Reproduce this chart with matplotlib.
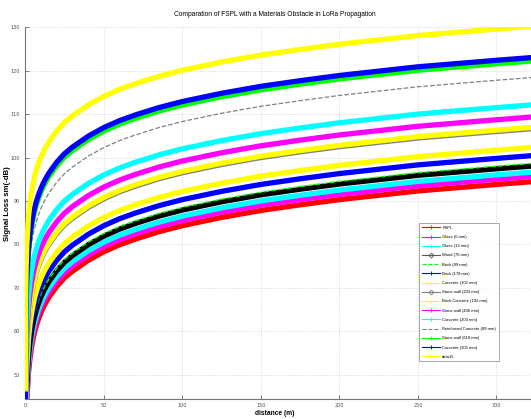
import matplotlib
matplotlib.use("Agg")
import matplotlib.pyplot as plt
from matplotlib.lines import Line2D
from matplotlib import font_manager
import numpy as np

# Distances (m) and free-space path loss (dB)
distance = [0.02, 0.05, 0.1, 0.2, 0.5, 1, 2, 3, 4, 5, 6, 7, 8, 10, 12, 15, 20, 25,
            30, 40, 50, 60, 70, 85, 100, 125, 150, 175, 200, 250, 300, 325]
fspl_db = [10.3, 18.3, 24.3, 30.3, 38.3, 44.3, 50.3, 53.8, 56.3, 58.3, 59.9, 61.2,
           62.4, 64.3, 65.9, 67.8, 70.3, 72.3, 73.8, 76.3, 78.3, 79.9, 81.2, 82.9,
           84.3, 86.2, 87.8, 89.1, 90.3, 92.3, 93.8, 94.5]

# Extra loss of each material above FSPL (dB)
materials = ["FSPL", "Glass (6 mm)", "Glass (13 mm)", "Wood (76 mm)", "Brick (89 mm)",
             "Brick (178 mm)", "Concrete (102 mm)", "Stone wall (203 mm)",
             "Brick Concrete (192 mm)", "Stone wall (406 mm)", "Concrete (203 mm)",
             "Reinforced Concrete (89 mm)", "Stone wall (610 mm)", "Concrete (305 mm)",
             "data15"]
extra_loss = [0.0, 1.2, 2.2, 3.6, 4.2, 6.0, 7.9, 12.2, 12.5, 14.9, 17.7,
              24.0, 27.8, 28.6, 35.8]

x_ticks = [0, 50, 100, 150, 200, 250, 300]
y_ticks = [50, 60, 70, 80, 90, 100, 110, 120, 130]

gray = (0.5, 0.5, 0.5)
styles = [
    dict(color="red", ls="-", lw=3.8, marker="+"),
    dict(color="magenta", ls="-", lw=3.8, marker="+"),
    dict(color="cyan", ls="-", lw=3.8, marker="+"),
    dict(color="black", ls="-", lw=3.8, marker="D", lcolor=(0.35, 0.35, 0.35)),
    dict(color="#00ff00", ls="--", lw=1.0, marker=None),
    dict(color="blue", ls="-", lw=3.8, marker="+"),
    dict(color="yellow", ls="-", lw=3.8, marker="+"),
    dict(color=gray, ls="-", lw=3.8, marker="D"),
    dict(color="yellow", ls="-", lw=3.8, marker="+"),
    dict(color="magenta", ls="-", lw=3.8, marker="+"),
    dict(color="cyan", ls="-", lw=3.8, marker="+"),
    dict(color=gray, ls="--", lw=0.9, marker=None),
    dict(color="#00ff00", ls="-", lw=3.8, marker="+"),
    dict(color="blue", ls="-", lw=3.8, marker="+"),
    dict(color="yellow", ls="-", lw=3.8, marker="+"),
]

names = {f.name for f in font_manager.fontManager.ttflist}
leg_family = "Liberation Sans Narrow" if "Liberation Sans Narrow" in names else "Liberation Sans"

fig = plt.figure(figsize=(5.31, 4.19), dpi=100)
ax = fig.add_axes([25.3 / 531, 1 - 399.3 / 419, 1 - 25.3 / 531, (399.3 - 27.3) / 419])

d = np.array(distance)
base = np.array(fspl_db)
handles = []
for name, off, st in zip(materials, extra_loss, styles):
    ax.plot(d, base + off, color=st["color"], ls=st["ls"], lw=st["lw"],
            solid_capstyle="butt", zorder=3)
    lc = st.get("lcolor", st["color"])
    handles.append(Line2D([0], [0], color=lc, ls=st["ls"],
                          lw=0.8, marker=st["marker"], markersize=2.5,
                          markerfacecolor="none", markeredgecolor=lc,
                          markeredgewidth=0.6))

ax.set_xlim(0, 322)
ax.set_ylim(44.3, 130)
ax.set_xticks(x_ticks)
ax.set_yticks(y_ticks)
ax.tick_params(direction="in", length=3, width=0.5, labelsize=3.5,
               colors=(0.3, 0.3, 0.3))
ax.tick_params(axis="x", pad=2.5)
ax.tick_params(axis="y", pad=4)
for s in ["top", "right"]:
    ax.spines[s].set_visible(False)
for s in ["left", "bottom"]:
    ax.spines[s].set_color((0.45, 0.45, 0.45))
    ax.spines[s].set_linewidth(0.8)
ax.grid(True, ls=(0, (1.5, 2)), color=(0.8, 0.8, 0.8), lw=0.5, zorder=0)
ax.set_axisbelow(True)

fig.text(275 / 531, 1 - 14 / 419, "Comparation of FSPL with a Materials Obstacle in LoRa Propagation",
         ha="center", va="center", fontsize=4.75, family="Liberation Sans")
fig.text(275 / 531, 1 - 413 / 419, "distance (m)", ha="center", va="center",
         fontsize=4.8, family="Liberation Sans", fontweight="bold")
fig.text(8 / 531, 1 - 204 / 419, "Signal Loss sm(-dB)", ha="center", va="center",
         rotation=90, fontsize=5.6, family="Liberation Sans", fontweight="bold")

leg = ax.legend(handles, materials, loc="upper left",
                bbox_to_anchor=(417 / 531, 1 - 221 / 419), bbox_transform=fig.transFigure,
                frameon=True, fancybox=False, handlelength=4.3,
                labelspacing=1.25, borderpad=0.65, handletextpad=0.6,
                prop={"family": leg_family, "size": 3.0})
leg.get_frame().set_edgecolor((0.5, 0.5, 0.5))
leg.get_frame().set_linewidth(0.6)

fig.savefig("out.png", dpi=100)
